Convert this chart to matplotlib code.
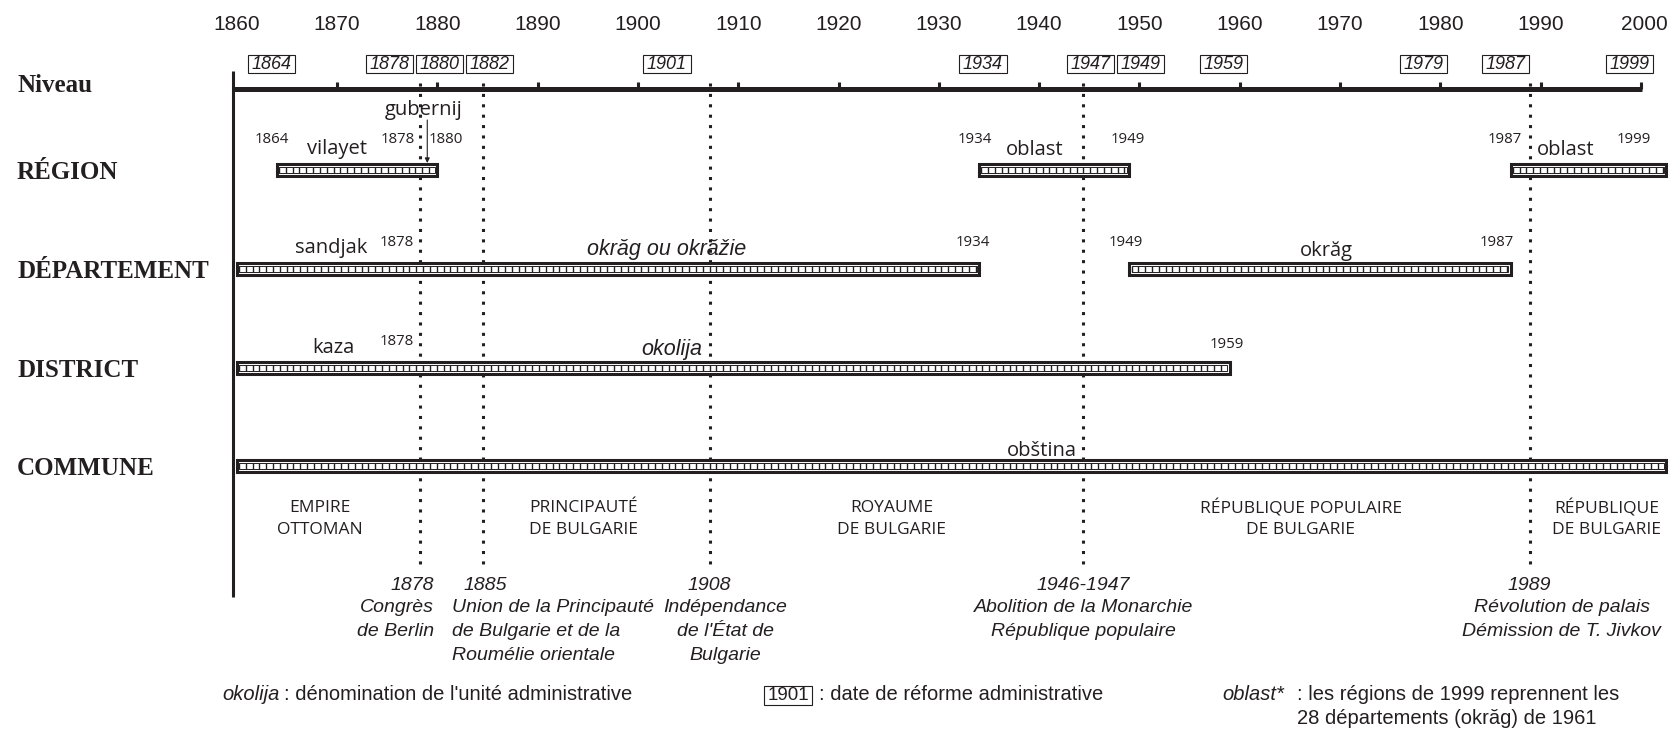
import numpy as np
import matplotlib.pyplot as plt
from matplotlib.patches import Rectangle

# ---- data ----
decades = list(range(1860, 2001, 10))
levels = ['RÉGION', 'DÉPARTEMENT', 'DISTRICT', 'COMMUNE']

# administrative units: level index, start year, end year ("2002.5" = still in force)
bar_level = [0, 0, 0, 1, 1, 2, 3]
bar_start = [1864, 1934, 1987, 1860, 1949, 1860, 1860]
bar_end = [1880, 1949, 2002.5, 1934, 1987, 1959, 2002.5]

# unit names written over the bars
unit_names = ['vilayet', 'oblast', 'oblast', 'sandjak', 'okrăg ou okrăžie',
              'okrăg', 'kaza', 'okolija', 'obština']
unit_level = [0, 0, 0, 1, 1, 1, 2, 2, 3]
unit_italic = [False, False, False, False, True, False, False, True, False]

# small dates at the ends of the bars
end_dates = ['1864', '1878', '1880', '1934', '1949', '1987', '1999',
             '1878', '1934', '1949', '1987', '1878', '1959']
end_level = [0, 0, 0, 0, 0, 0, 0, 1, 1, 1, 1, 2, 2]

# dates of administrative reform (boxed, top)
reform_years = [1864, 1878, 1880, 1882, 1901, 1934, 1947, 1949, 1959, 1979, 1987, 1999]

# historical periods
periods = [['EMPIRE', 'OTTOMAN'], ['PRINCIPAUTÉ', 'DE BULGARIE'],
           ['ROYAUME', 'DE BULGARIE'], ['RÉPUBLIQUE POPULAIRE', 'DE BULGARIE'],
           ['RÉPUBLIQUE', 'DE BULGARIE']]

# key events (dotted lines)
event_dates = ['1878', '1885', '1908', '1946-1947', '1989']
event_text = [['Congrès', 'de Berlin'],
              ['Union de la Principauté', 'de Bulgarie et de la', 'Roumélie orientale'],
              ['Indépendance', "de l'État de", 'Bulgarie'],
              ['Abolition de la Monarchie', 'République populaire'],
              ['Révolution de palais', 'Démission de T. Jivkov']]

# ---- layout ----
INK = '#231f20'
X0, PPY = 236.7, 10.03          # pixel of 1860, pixels per year
W, H = 1671, 729


def yr(px):
    return 1860 + (px - X0) / PPY


level_y = [170, 269, 368, 466]
unit_x = [1870.0, 1939.6, 1992.5, 1869.4, 1902.9, 1968.6, 1869.6, 1903.4, 1940.3]
unit_dy = [-21, -20, -20, -21, -20, -18, -20, -19, -15]
end_x = [1863.5, 1877.8, 1879.1, 1933.6, 1948.8, 1986.4, 1999.3,
         1877.7, 1933.4, 1948.6, 1985.6, 1877.7, 1958.7]
end_ha = ['center', 'right', 'left', 'center', 'center', 'center', 'center',
          'right', 'center', 'center', 'center', 'right', 'center']
end_dy = [-31, -31, -31, -31, -31, -31, -31, -27, -27, -27, -27, -27, -24]
reform_x = [1863.5, 1875.2, 1880.2, 1885.2, 1902.9, 1934.4, 1945.1,
            1950.1, 1958.4, 1978.3, 1986.5, 1998.9]
period_x = [1868.3, 1894.6, 1925.3, 1966.1, 1996.6]
event_line_x = [1878.3, 1884.6, 1907.2, 1944.4, 1988.9]
event_date_x = [1879.7, 1882.6, 1907.1, 1944.4, 1988.9]
event_date_ha = ['right', 'left', 'center', 'center', 'center']
event_text_x = [1879.7, 1881.5, 1908.7, 1944.4, 1992.1]
event_text_ha = ['right', 'left', 'center', 'center', 'center']

ARIAL = 'Liberation Sans'
MYRIAD = 'Open Sans'
SERIF = 'Liberation Serif'

fig = plt.figure(figsize=(W / 100, H / 100), dpi=100)
ax = fig.add_axes([0, 0, 1, 1])
ax.set_xlim(yr(0), yr(W))
ax.set_ylim(H, 0)
ax.axis('off')

# time axis
ax.plot([yr(233), yr(233)], [71, 597], color=INK, lw=2.2, solid_capstyle='butt')
ax.plot([yr(233), 2000.15], [89, 89], color=INK, lw=3.6, solid_capstyle='butt')
ax.vlines(decades[1:], 82, 89, color=INK, lw=2.2)
for d in decades:
    x = d + 0.35 if d == 2000 else d
    ax.text(x, 24, str(d), ha='center', va='center', fontsize=15,
            family=ARIAL, color=INK)

# reform boxes
for y0, x in zip(reform_years, reform_x):
    ax.add_patch(Rectangle((x - 2.35, 55), 4.7, 18, fill=False, ec=INK, lw=0.8))
    ax.text(x, 64.5, str(y0), ha='center', va='center', fontsize=13,
            style='italic', family=ARIAL, color=INK)

# row labels
ax.text(yr(17), 85, 'Niveau', ha='left', va='center', fontsize=18,
        family=SERIF, weight='bold', color=INK)
for lab, y in zip(levels, level_y):
    ax.text(yr(17), y + 2, lab, ha='left', va='center', fontsize=18,
            family=SERIF, weight='bold', color=INK)

# event dotted lines
for x in event_line_x:
    ax.plot([x, x], [83, 567], color=INK, lw=2.2, dashes=(1, 2.4))

# bars
for lv, s, e in zip(bar_level, bar_start, bar_end):
    yc = level_y[lv]
    ax.add_patch(Rectangle((s, yc - 5.8), e - s, 11.6, fc='white', ec=INK, lw=2.2, zorder=3))
    ax.add_patch(Rectangle((s + 0.22, yc - 3.3), e - s - 0.44, 6.6, fill=False,
                           ec=INK, lw=0.7, zorder=4))
    ax.vlines(np.arange(s + 0.22, e - 0.2, 0.68), yc - 3.3, yc + 3.3,
              color=INK, lw=1.0, zorder=4)

# unit names
for t, lv, x, dy, it in zip(unit_names, unit_level, unit_x, unit_dy, unit_italic):
    if it:
        ax.text(x, level_y[lv] + dy, t, ha='center', va='center', fontsize=15.5,
                style='italic', family=ARIAL, color=INK)
    else:
        ax.text(x, level_y[lv] + dy, t, ha='center', va='center', fontsize=14.5,
                family=MYRIAD, color=INK)

# end dates
for t, lv, x, ha, dy in zip(end_dates, end_level, end_x, end_ha, end_dy):
    ax.text(x, level_y[lv] + dy, t, ha=ha, va='center', fontsize=10.8,
            family=MYRIAD, color=INK)

# gubernij arrow
ax.text(1878.6, 110, 'gubernij', ha='center', va='center', fontsize=14.5,
        family=MYRIAD, color=INK)
ax.annotate('', xy=(1879.0, 163), xytext=(1879.0, 120),
            arrowprops=dict(arrowstyle='-|>', color=INK, lw=0.8,
                            mutation_scale=7, shrinkA=0, shrinkB=0), zorder=5)

# periods
for lines, x in zip(periods, period_x):
    for i, ln in enumerate(lines):
        ax.text(x, 508 + 22 * i, ln, ha='center', va='center', fontsize=12.5,
                family=MYRIAD, color=INK)

# events
for d, dx, dha, lines, tx, tha in zip(event_dates, event_date_x, event_date_ha,
                                      event_text, event_text_x, event_text_ha):
    ax.text(dx, 585, d, ha=dha, va='center', fontsize=14, style='italic',
            family=ARIAL, color=INK)
    for i, ln in enumerate(lines):
        ax.text(tx, 608 + 23.5 * i, ln, ha=tha, va='center', fontsize=14,
                style='italic', family=ARIAL, color=INK)

# key
KEY = 14.5
ax.text(yr(222), 695, 'okolija', ha='left', va='center', fontsize=KEY,
        style='italic', family=ARIAL, color=INK)
ax.text(yr(284), 695, ": dénomination de l'unité administrative", ha='left',
        va='center', fontsize=KEY, family=ARIAL, color=INK)
ax.add_patch(Rectangle((yr(764), 686), 4.8, 18.5, fill=False, ec=INK, lw=0.8))
ax.text(yr(764) + 2.4, 695.5, '1901', ha='center', va='center', fontsize=13.5,
        family=ARIAL, color=INK)
ax.text(yr(819), 695, ': date de réforme administrative', ha='left',
        va='center', fontsize=KEY, family=ARIAL, color=INK)
ax.text(yr(1222), 695, 'oblast*', ha='left', va='center', fontsize=KEY,
        style='italic', family=ARIAL, color=INK)
ax.text(yr(1297), 695, ': les régions de 1999 reprennent les', ha='left',
        va='center', fontsize=KEY, family=ARIAL, color=INK)
ax.text(yr(1297), 719, '28 départements (okrăg) de 1961', ha='left',
        va='center', fontsize=KEY, family=ARIAL, color=INK)

fig.savefig('out.png', dpi=100)
